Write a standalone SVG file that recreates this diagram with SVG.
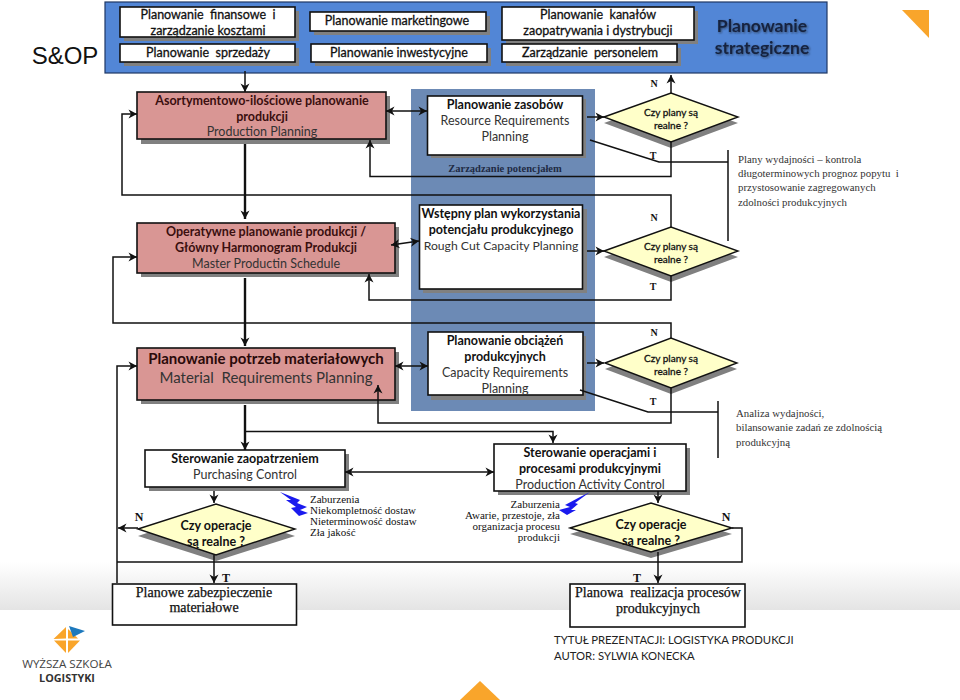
<svg xmlns="http://www.w3.org/2000/svg" width="960" height="700" viewBox="0 0 960 700">
<style>
text{font-family:Lato,"Open Sans","Liberation Sans",sans-serif;fill:#111;text-anchor:middle;white-space:pre}
.b{font-weight:700}
.m{stroke:#111;stroke-width:.3}
.r{fill:#333}
.sh{fill:#808080}
.box{fill:#fff;stroke:#111;stroke-width:1.6}
.pink{fill:#d99694;stroke:#111;stroke-width:1.6}
.dia{fill:#ffffc9;stroke:#111;stroke-width:1.4}
.ser{font-family:"Liberation Serif",serif}
.s13{font-size:12.5px}
.s12{font-size:10px}
.note{font-family:"Liberation Serif",serif;font-size:10.8px;text-anchor:start;fill:#333}
.dist{font-family:"Liberation Serif",serif;font-size:11px;fill:#111}
.lab{font-family:"Liberation Serif",serif;font-size:10px;font-weight:700}
.big{font-family:"Liberation Serif",serif;font-size:14px;fill:#111;stroke:#111;stroke-width:.25}
.c{fill:none;stroke:#111;stroke-width:1.5}
.t{fill:none;stroke:#111;stroke-width:2.4}
.bolt{fill:#1a1aee}
.org{fill:#f9a52b}
</style>
<defs>
<marker id="a" viewBox="0 0 10 10" refX="9.500" refY="5" markerWidth="10" markerHeight="10" markerUnits="userSpaceOnUse" orient="auto-start-reverse"><path d="M1 0.500L9.500 5L1 9.500L3.500 5Z" fill="#111"/></marker>
<linearGradient id="g" x1="0" y1="0" x2="0" y2="1"><stop offset="0" stop-color="#fff"/><stop offset="1" stop-color="#e4e4e4"/></linearGradient>
<filter id="ts" x="-10%" y="-20%" width="120%" height="150%"><feDropShadow dx="1" dy="1" stdDeviation="0.8" flood-color="#222" flood-opacity=".6"/></filter>
</defs>
<rect width="960" height="700" fill="#fff"/>
<rect x="0" y="562" width="960" height="48" fill="url(#g)"/>

<g id="sop-label"><text x="65" y="64" style="font-family:'Liberation Sans',sans-serif;font-size:24px;fill:#111">S&amp;OP</text></g>
<g id="strategic">
<rect x="105" y="2" width="722" height="71" fill="#5286d6" stroke="#1f3864" stroke-width="1.2"/>
<g filter="url(#ts)"><text x="762" y="32" class="b" style="font-size:17.500px;fill:#14233f">Planowanie</text><text x="762" y="54" class="b" style="font-size:17.500px;fill:#14233f">strategiczne</text></g>
</g>
<g id="n-finanse"><rect class="sh" x="124" y="11" width="175" height="30"/><rect class="box" x="120" y="7" width="175" height="30"/><text x="208" y="19" class="s13 m">Planowanie  finansowe  i</text><text x="208" y="35" class="s13 m">zarządzanie kosztami</text></g>
<g id="n-sprzedaz"><rect class="sh" x="124" y="48" width="175" height="18"/><rect class="box" x="120" y="44" width="175" height="18"/><text x="208" y="57" class="s13 m">Planowanie  sprzedaży</text></g>
<g id="n-marketing"><rect class="sh" x="314" y="16" width="176" height="19"/><rect class="box" x="310" y="12" width="176" height="19"/><text x="397" y="25" class="s13 m">Planowanie marketingowe</text></g>
<g id="n-inwest"><rect class="sh" x="315" y="48" width="176" height="18"/><rect class="box" x="311" y="44" width="176" height="18"/><text x="399" y="57" class="s13 m">Planowanie inwestycyjne</text></g>
<g id="n-kanaly"><rect class="sh" x="506" y="11" width="192" height="33"/><rect class="box" x="502" y="7" width="192" height="33"/><text x="598" y="19" class="s13 m">Planowanie  kanałów</text><text x="598" y="35" class="s13 m">zaopatrywania i dystrybucji</text></g>
<g id="n-personel"><rect class="sh" x="506" y="48" width="175" height="18"/><rect class="box" x="502" y="44" width="175" height="18"/><text x="590" y="57" class="s13 m">Zarządzanie  personelem</text></g>

<g id="capacity-band"><rect x="411" y="89" width="184" height="322" fill="#6c8ab5"/><text x="505" y="172" class="ser b" style="font-size:10.500px;fill:#1f2a44">Zarządzanie potencjałem</text></g>

<g id="n-ppl"><rect class="sh" x="141" y="96" width="249" height="48"/><rect class="pink" x="137" y="92" width="249" height="47"/><text x="262" y="105" class="s13 b" style="fill:#3a0f0f">Asortymentowo-ilościowe planowanie</text><text x="262" y="121" class="s13 b" style="fill:#3a0f0f">produkcji</text><text x="262" y="136" class="s13 r">Production Planning</text></g>
<g id="n-mps"><rect class="sh" x="141" y="227" width="258" height="50"/><rect class="pink" x="137" y="223" width="258" height="50"/><text x="266" y="236" class="s13 b" style="fill:#3a0f0f">Operatywne planowanie produkcji /</text><text x="266" y="252" class="s13 b" style="fill:#3a0f0f">Główny Harmonogram Produkcji</text><text x="266" y="268" class="s13 r">Master Productin Schedule</text></g>
<g id="n-mrp"><rect class="sh" x="141" y="352" width="258" height="52"/><rect class="pink" x="137" y="348" width="258" height="52"/><text x="266" y="364" class="b" style="font-size:15px;fill:#2a0a0a">Planowanie potrzeb materiałowych</text><text x="266" y="383" class="r" style="font-size:15px">Material  Requirements Planning</text></g>

<g id="n-rrp"><rect class="sh" x="431" y="99" width="155" height="59"/><rect class="box" x="427.500" y="96" width="155" height="59"/><text x="505" y="109" class="s13 b">Planowanie zasobów</text><text x="505" y="125" class="s13 r">Resource Requirements</text><text x="505" y="141" class="s13 r">Planning</text></g>
<g id="n-rccp"><rect class="sh" x="423" y="209" width="164" height="84"/><rect class="box" x="419.500" y="205" width="163" height="84"/><text x="501" y="218" class="s13 b">Wstępny plan wykorzystania</text><text x="501" y="234" class="s13 b">potencjału produkcyjnego</text><text x="501" y="250" class="r" style="font-size:12.200px">Rough Cut Capacity Planning</text></g>
<g id="n-crp"><rect class="sh" x="431" y="336" width="155" height="64"/><rect class="box" x="428" y="332" width="155" height="63"/><text x="505" y="345" class="s13 b">Planowanie obciążeń</text><text x="505" y="361" class="s13 b">produkcyjnych</text><text x="505" y="377" class="s13 r">Capacity Requirements</text><text x="505" y="393" class="s13 r">Planning</text></g>

<g id="d-plan1"><polygon class="sh" points="604,123 671,148 738,123 671,99"/><polygon class="dia" points="604,117 671,93 738,117 671,142"/><text x="671" y="116" class="s12 m">Czy plany są</text><text x="671" y="129" class="s12 m">realne ?</text></g>
<g id="d-plan2"><polygon class="sh" points="604,257 671,282 738,257 671,233"/><polygon class="dia" points="604,251 671,227 738,251 671,276"/><text x="671" y="250" class="s12 m">Czy plany są</text><text x="671" y="263" class="s12 m">realne ?</text></g>
<g id="d-plan3"><polygon class="sh" points="605,369 671,394 737,369 671,344"/><polygon class="dia" points="605,363 671,338 737,363 671,388"/><text x="671" y="362" class="s12 m">Czy plany są</text><text x="671" y="375" class="s12 m">realne ?</text></g>

<g id="n-purch"><rect class="sh" x="149" y="454" width="200" height="37"/><rect class="box" x="145" y="450" width="200" height="37"/><text x="245" y="463" class="s13 b">Sterowanie zaopatrzeniem</text><text x="245" y="479" class="s13 r">Purchasing Control</text></g>
<g id="n-pac"><rect class="sh" x="498" y="448" width="192" height="47"/><rect class="box" x="494" y="444" width="192" height="47"/><text x="590" y="457" class="s13 b">Sterowanie operacjami i</text><text x="590" y="473" class="s13 b">procesami produkcyjnymi</text><text x="590" y="489" class="s13 r">Production Activity Control</text></g>

<g id="d-op1"><polygon class="sh" points="138,536 216,561 295,536 216,510"/><polygon class="dia" points="138,529 216,504 295,529 216,555"/><text x="216" y="530" class="b" style="font-size:12.500px">Czy operacje</text><text x="216" y="546" class="b" style="font-size:12.500px">są realne ?</text></g>
<g id="d-op2"><polygon class="sh" points="570,534 651,558 732,534 651,509"/><polygon class="dia" points="570,528 651,503 732,528 651,552"/><text x="651" y="529" class="b" style="font-size:12.500px">Czy operacje</text><text x="651" y="545" class="b" style="font-size:12.500px">są realne ?</text></g>

<g id="n-mat"><rect class="box" x="112.500" y="584" width="184" height="41"/><text x="204" y="597" class="big">Planowe zabezpieczenie</text><text x="204" y="612" class="big">materiałowe</text></g>
<g id="n-real"><rect class="box" x="570" y="584" width="175" height="43"/><text x="658" y="597" class="big">Planowa  realizacja procesów</text><text x="658" y="613" class="big">produkcyjnych</text></g>

<g id="connectors">
<path class="c" d="M245 71V92" marker-end="url(#a)"/>
<path class="t" d="M245 144V219" marker-end="url(#a)"/>
<path class="t" d="M245 278V346" marker-end="url(#a)"/>
<path class="t" d="M245 405V450" marker-end="url(#a)"/>
<path class="c" d="M671 93V75" marker-end="url(#a)"/>
<path class="c" d="M671 142V176.500H370V140" marker-end="url(#a)"/>
<path class="c" d="M671 227V195H122V114H137" marker-end="url(#a)"/>
<path class="c" d="M671 338V323H113V257H137" marker-end="url(#a)"/>
<path class="c" d="M671 276V300H369V274" marker-end="url(#a)"/>
<path class="c" d="M671 388V423H378V385" marker-end="url(#a)"/>
<path class="c" d="M246 431.500H553V443" marker-end="url(#a)"/>
<path class="c" d="M386 111H427" marker-start="url(#a)" marker-end="url(#a)"/>
<path class="c" d="M391 245L419 241" marker-start="url(#a)" marker-end="url(#a)"/>
<path class="c" d="M395 366H428" marker-start="url(#a)" marker-end="url(#a)"/>
<path class="c" d="M345 472H494" marker-start="url(#a)" marker-end="url(#a)"/>
<path class="c" d="M587 117H604" marker-end="url(#a)"/>
<path class="c" d="M587 251H604" marker-end="url(#a)"/>
<path class="c" d="M587 363H604" marker-end="url(#a)"/>
<path class="c" d="M590 140L659 162H728M728 150V241"/>
<path class="c" d="M580 390L648 412H718M718 401V458"/>
<path class="c" d="M214 491V503" marker-end="url(#a)"/>
<path class="c" d="M214 555V583" marker-end="url(#a)"/>
<path class="c" d="M658 491V503" marker-end="url(#a)"/>
<path class="c" d="M658 552V583" marker-end="url(#a)"/>
<path class="c" d="M138 528H118" marker-end="url(#a)"/>
<path class="c" d="M117 583V366H137" marker-end="url(#a)"/>
<path class="c" d="M117 562H742V528H732"/>
</g>

<g id="labels">
<text x="654" y="87" class="lab">N</text><text x="653" y="159" class="lab">T</text>
<text x="654" y="221" class="lab">N</text><text x="653" y="290" class="lab">T</text>
<text x="654" y="336" class="lab">N</text><text x="653" y="405" class="lab">T</text>
<text x="139" y="521" class="lab" style="font-size:12px">N</text><text x="226" y="582" class="lab" style="font-size:12px">T</text>
<text x="726" y="521" class="lab" style="font-size:12px">N</text><text x="637" y="582" class="lab" style="font-size:12px">T</text>
</g>
<g id="note1"><text class="note" x="738" y="163">Plany wydajności – kontrola</text><text class="note" x="738" y="177">długoterminowych prognoz popytu  i</text><text class="note" x="738" y="191">przystosowanie zagregowanych</text><text class="note" x="738" y="206">zdolności produkcyjnych</text></g>
<g id="note2"><text class="note" x="736" y="417">Analiza wydajności,</text><text class="note" x="736" y="431">bilansowanie zadań ze zdolnością</text><text class="note" x="736" y="446">produkcyjną</text></g>
<g id="dist1"><polygon class="bolt" points="280,492 300,500 297,503 307,507 300,510 308,513 299,516 291,508 296,507 286,500 291,500"/><text class="dist" x="310" y="503" style="text-anchor:start">Zaburzenia</text><text class="dist" x="310" y="514" style="text-anchor:start">Niekompletność dostaw</text><text class="dist" x="310" y="525" style="text-anchor:start">Nieterminowość dostaw</text><text class="dist" x="310" y="536" style="text-anchor:start">Zła jakość</text></g>
<g id="dist2"><polygon class="bolt" points="590,492 575,503 578,504 571,510 576,510 567,515 559,510 570,507 565,505 580,497"/><text class="dist" x="560" y="508" style="text-anchor:end">Zaburzenia</text><text class="dist" x="560" y="519" style="text-anchor:end">Awarie, przestoje, zła</text><text class="dist" x="560" y="530" style="text-anchor:end">organizacja procesu</text><text class="dist" x="560" y="541" style="text-anchor:end">produkcji</text></g>

<g id="title"><text x="554" y="644" style="text-anchor:start;font-size:11.300px;fill:#222">TYTUŁ PREZENTACJI: LOGISTYKA PRODUKCJI</text><text x="554" y="660" style="text-anchor:start;font-size:11.300px;fill:#222">AUTOR: SYLWIA KONECKA</text></g>
<g id="logo">
<polygon class="org" points="53.500,639 66,627 66,638.500"/><polygon class="org" points="54,640.500 66,640.500 66,653"/><polygon class="org" points="68,640.500 80,640.500 68,653"/><polygon class="org" points="68,629 68,638.500 78,638.500"/>
<polygon points="69,626 85,631 73,637" fill="#1d79bd"/>
<text x="67" y="667.500" style="font-size:11.600px;fill:#444;font-family:'Open Sans',sans-serif">WYŻSZA SZKOŁA</text>
<text x="67" y="682" style="font-size:10.800px;font-weight:700;fill:#333;font-family:'Open Sans',sans-serif">LOGISTYKI</text>
</g>
<polygon class="org" points="902,10 929,10 929,38"/>
<polygon class="org" points="480,681 500,700 460,700"/>
</svg>
